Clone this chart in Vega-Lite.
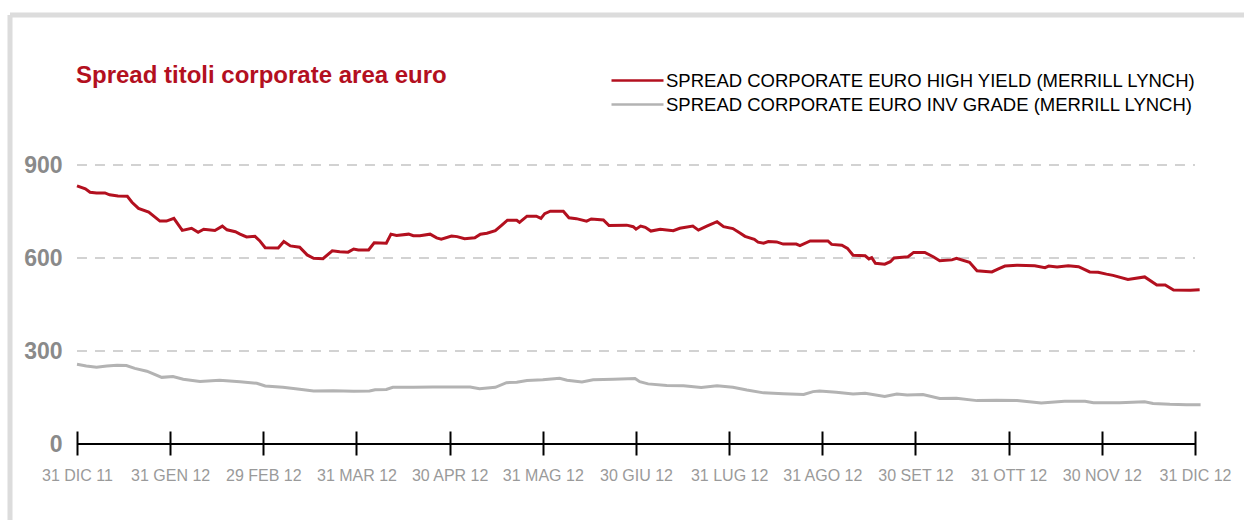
{
  "$schema": "https://vega.github.io/schema/vega-lite/v6.json",
  "width": 1234,
  "height": 505,
  "autosize": {"type": "none"},
  "padding": {"left": 10, "top": 15, "right": 0, "bottom": 0},
  "background": "white",
  "title": {
    "text": "Spread titoli corporate area euro",
    "anchor": "start",
    "frame": "group",
    "orient": "top",
    "offset": -92,
    "dx": 66,
    "baseline": "alphabetic",
    "color": "#b3101f",
    "font": "Liberation Sans",
    "fontSize": 24,
    "fontWeight": "bold"
  },
  "datasets": {
    "grid": [{"g": 300}, {"g": 600}, {"g": 900}],
    "base": [{"g": 0}],
    "series": [
      {"serie": "HY", "t": 0.00, "v": 833},
      {"serie": "HY", "t": 0.09, "v": 823},
      {"serie": "HY", "t": 0.14, "v": 812},
      {"serie": "HY", "t": 0.21, "v": 810},
      {"serie": "HY", "t": 0.30, "v": 810},
      {"serie": "HY", "t": 0.35, "v": 804},
      {"serie": "HY", "t": 0.44, "v": 800},
      {"serie": "HY", "t": 0.54, "v": 799},
      {"serie": "HY", "t": 0.59, "v": 780},
      {"serie": "HY", "t": 0.66, "v": 760},
      {"serie": "HY", "t": 0.77, "v": 748},
      {"serie": "HY", "t": 0.89, "v": 719},
      {"serie": "HY", "t": 0.96, "v": 719},
      {"serie": "HY", "t": 1.04, "v": 728},
      {"serie": "HY", "t": 1.13, "v": 689},
      {"serie": "HY", "t": 1.23, "v": 696},
      {"serie": "HY", "t": 1.30, "v": 683},
      {"serie": "HY", "t": 1.36, "v": 693},
      {"serie": "HY", "t": 1.48, "v": 689},
      {"serie": "HY", "t": 1.56, "v": 703},
      {"serie": "HY", "t": 1.61, "v": 691},
      {"serie": "HY", "t": 1.70, "v": 685},
      {"serie": "HY", "t": 1.75, "v": 677},
      {"serie": "HY", "t": 1.82, "v": 668},
      {"serie": "HY", "t": 1.91, "v": 670},
      {"serie": "HY", "t": 1.96, "v": 656},
      {"serie": "HY", "t": 2.02, "v": 633},
      {"serie": "HY", "t": 2.16, "v": 632},
      {"serie": "HY", "t": 2.22, "v": 653},
      {"serie": "HY", "t": 2.29, "v": 639},
      {"serie": "HY", "t": 2.39, "v": 635},
      {"serie": "HY", "t": 2.47, "v": 610},
      {"serie": "HY", "t": 2.54, "v": 599},
      {"serie": "HY", "t": 2.64, "v": 598},
      {"serie": "HY", "t": 2.74, "v": 623},
      {"serie": "HY", "t": 2.82, "v": 620},
      {"serie": "HY", "t": 2.91, "v": 619},
      {"serie": "HY", "t": 2.97, "v": 629},
      {"serie": "HY", "t": 3.02, "v": 626},
      {"serie": "HY", "t": 3.13, "v": 626},
      {"serie": "HY", "t": 3.19, "v": 649},
      {"serie": "HY", "t": 3.32, "v": 648},
      {"serie": "HY", "t": 3.37, "v": 677},
      {"serie": "HY", "t": 3.43, "v": 673},
      {"serie": "HY", "t": 3.56, "v": 677},
      {"serie": "HY", "t": 3.61, "v": 672},
      {"serie": "HY", "t": 3.68, "v": 672},
      {"serie": "HY", "t": 3.79, "v": 677},
      {"serie": "HY", "t": 3.86, "v": 665},
      {"serie": "HY", "t": 3.91, "v": 661},
      {"serie": "HY", "t": 4.02, "v": 671},
      {"serie": "HY", "t": 4.08, "v": 669},
      {"serie": "HY", "t": 4.16, "v": 662},
      {"serie": "HY", "t": 4.27, "v": 665},
      {"serie": "HY", "t": 4.33, "v": 677},
      {"serie": "HY", "t": 4.40, "v": 680},
      {"serie": "HY", "t": 4.49, "v": 688},
      {"serie": "HY", "t": 4.56, "v": 706},
      {"serie": "HY", "t": 4.62, "v": 722},
      {"serie": "HY", "t": 4.72, "v": 722},
      {"serie": "HY", "t": 4.75, "v": 715},
      {"serie": "HY", "t": 4.83, "v": 735},
      {"serie": "HY", "t": 4.93, "v": 735},
      {"serie": "HY", "t": 4.98, "v": 728},
      {"serie": "HY", "t": 5.02, "v": 743},
      {"serie": "HY", "t": 5.08, "v": 751},
      {"serie": "HY", "t": 5.22, "v": 751},
      {"serie": "HY", "t": 5.28, "v": 730},
      {"serie": "HY", "t": 5.36, "v": 727},
      {"serie": "HY", "t": 5.47, "v": 719},
      {"serie": "HY", "t": 5.52, "v": 726},
      {"serie": "HY", "t": 5.65, "v": 723},
      {"serie": "HY", "t": 5.71, "v": 705},
      {"serie": "HY", "t": 5.90, "v": 706},
      {"serie": "HY", "t": 5.97, "v": 701},
      {"serie": "HY", "t": 6.00, "v": 693},
      {"serie": "HY", "t": 6.05, "v": 703},
      {"serie": "HY", "t": 6.10, "v": 699},
      {"serie": "HY", "t": 6.16, "v": 687},
      {"serie": "HY", "t": 6.26, "v": 693},
      {"serie": "HY", "t": 6.40, "v": 688},
      {"serie": "HY", "t": 6.47, "v": 696},
      {"serie": "HY", "t": 6.61, "v": 703},
      {"serie": "HY", "t": 6.67, "v": 690},
      {"serie": "HY", "t": 6.76, "v": 703},
      {"serie": "HY", "t": 6.87, "v": 717},
      {"serie": "HY", "t": 6.94, "v": 701},
      {"serie": "HY", "t": 7.04, "v": 695},
      {"serie": "HY", "t": 7.12, "v": 680},
      {"serie": "HY", "t": 7.17, "v": 670},
      {"serie": "HY", "t": 7.27, "v": 660},
      {"serie": "HY", "t": 7.31, "v": 651},
      {"serie": "HY", "t": 7.37, "v": 648},
      {"serie": "HY", "t": 7.42, "v": 653},
      {"serie": "HY", "t": 7.51, "v": 652},
      {"serie": "HY", "t": 7.58, "v": 645},
      {"serie": "HY", "t": 7.72, "v": 645},
      {"serie": "HY", "t": 7.76, "v": 640},
      {"serie": "HY", "t": 7.87, "v": 655},
      {"serie": "HY", "t": 7.97, "v": 655},
      {"serie": "HY", "t": 8.06, "v": 655},
      {"serie": "HY", "t": 8.10, "v": 644},
      {"serie": "HY", "t": 8.21, "v": 641},
      {"serie": "HY", "t": 8.27, "v": 631},
      {"serie": "HY", "t": 8.33, "v": 609},
      {"serie": "HY", "t": 8.46, "v": 607},
      {"serie": "HY", "t": 8.50, "v": 597},
      {"serie": "HY", "t": 8.53, "v": 601},
      {"serie": "HY", "t": 8.57, "v": 583},
      {"serie": "HY", "t": 8.67, "v": 580},
      {"serie": "HY", "t": 8.73, "v": 588},
      {"serie": "HY", "t": 8.77, "v": 600},
      {"serie": "HY", "t": 8.92, "v": 604},
      {"serie": "HY", "t": 8.98, "v": 618},
      {"serie": "HY", "t": 9.10, "v": 618},
      {"serie": "HY", "t": 9.19, "v": 604},
      {"serie": "HY", "t": 9.26, "v": 591},
      {"serie": "HY", "t": 9.39, "v": 594},
      {"serie": "HY", "t": 9.44, "v": 599},
      {"serie": "HY", "t": 9.58, "v": 586},
      {"serie": "HY", "t": 9.66, "v": 559},
      {"serie": "HY", "t": 9.82, "v": 555},
      {"serie": "HY", "t": 9.89, "v": 565},
      {"serie": "HY", "t": 9.96, "v": 574},
      {"serie": "HY", "t": 10.09, "v": 577},
      {"serie": "HY", "t": 10.28, "v": 575},
      {"serie": "HY", "t": 10.39, "v": 569},
      {"serie": "HY", "t": 10.43, "v": 574},
      {"serie": "HY", "t": 10.52, "v": 571},
      {"serie": "HY", "t": 10.64, "v": 575},
      {"serie": "HY", "t": 10.75, "v": 572},
      {"serie": "HY", "t": 10.87, "v": 555},
      {"serie": "HY", "t": 10.96, "v": 554},
      {"serie": "HY", "t": 11.05, "v": 548},
      {"serie": "HY", "t": 11.12, "v": 544},
      {"serie": "HY", "t": 11.28, "v": 531},
      {"serie": "HY", "t": 11.46, "v": 539},
      {"serie": "HY", "t": 11.59, "v": 513},
      {"serie": "HY", "t": 11.68, "v": 513},
      {"serie": "HY", "t": 11.77, "v": 497},
      {"serie": "HY", "t": 11.95, "v": 496},
      {"serie": "HY", "t": 12.05, "v": 498},
      {"serie": "IG", "t": 0.00, "v": 257},
      {"serie": "IG", "t": 0.10, "v": 252},
      {"serie": "IG", "t": 0.21, "v": 248},
      {"serie": "IG", "t": 0.32, "v": 252},
      {"serie": "IG", "t": 0.43, "v": 254},
      {"serie": "IG", "t": 0.53, "v": 253},
      {"serie": "IG", "t": 0.62, "v": 244},
      {"serie": "IG", "t": 0.75, "v": 235},
      {"serie": "IG", "t": 0.82, "v": 226},
      {"serie": "IG", "t": 0.91, "v": 215},
      {"serie": "IG", "t": 1.03, "v": 218},
      {"serie": "IG", "t": 1.14, "v": 209},
      {"serie": "IG", "t": 1.32, "v": 202},
      {"serie": "IG", "t": 1.53, "v": 206},
      {"serie": "IG", "t": 1.75, "v": 201},
      {"serie": "IG", "t": 1.93, "v": 196},
      {"serie": "IG", "t": 2.02, "v": 187},
      {"serie": "IG", "t": 2.21, "v": 183},
      {"serie": "IG", "t": 2.39, "v": 177},
      {"serie": "IG", "t": 2.54, "v": 171},
      {"serie": "IG", "t": 2.75, "v": 172},
      {"serie": "IG", "t": 2.97, "v": 170},
      {"serie": "IG", "t": 3.14, "v": 171},
      {"serie": "IG", "t": 3.20, "v": 175},
      {"serie": "IG", "t": 3.32, "v": 176},
      {"serie": "IG", "t": 3.39, "v": 183},
      {"serie": "IG", "t": 3.61, "v": 183},
      {"serie": "IG", "t": 3.82, "v": 184},
      {"serie": "IG", "t": 4.00, "v": 184},
      {"serie": "IG", "t": 4.22, "v": 184},
      {"serie": "IG", "t": 4.32, "v": 178},
      {"serie": "IG", "t": 4.49, "v": 183},
      {"serie": "IG", "t": 4.61, "v": 198},
      {"serie": "IG", "t": 4.72, "v": 199},
      {"serie": "IG", "t": 4.83, "v": 205},
      {"serie": "IG", "t": 5.00, "v": 207},
      {"serie": "IG", "t": 5.18, "v": 212},
      {"serie": "IG", "t": 5.26, "v": 206},
      {"serie": "IG", "t": 5.42, "v": 200},
      {"serie": "IG", "t": 5.54, "v": 207},
      {"serie": "IG", "t": 5.76, "v": 209},
      {"serie": "IG", "t": 5.99, "v": 211},
      {"serie": "IG", "t": 6.04, "v": 201},
      {"serie": "IG", "t": 6.13, "v": 194},
      {"serie": "IG", "t": 6.33, "v": 189},
      {"serie": "IG", "t": 6.51, "v": 188},
      {"serie": "IG", "t": 6.70, "v": 182},
      {"serie": "IG", "t": 6.87, "v": 188},
      {"serie": "IG", "t": 7.04, "v": 183},
      {"serie": "IG", "t": 7.19, "v": 174},
      {"serie": "IG", "t": 7.37, "v": 165},
      {"serie": "IG", "t": 7.58, "v": 162},
      {"serie": "IG", "t": 7.80, "v": 160},
      {"serie": "IG", "t": 7.90, "v": 169},
      {"serie": "IG", "t": 7.97, "v": 171},
      {"serie": "IG", "t": 8.15, "v": 167},
      {"serie": "IG", "t": 8.33, "v": 161},
      {"serie": "IG", "t": 8.46, "v": 164},
      {"serie": "IG", "t": 8.67, "v": 153},
      {"serie": "IG", "t": 8.80, "v": 161},
      {"serie": "IG", "t": 8.91, "v": 158},
      {"serie": "IG", "t": 9.08, "v": 160},
      {"serie": "IG", "t": 9.26, "v": 147},
      {"serie": "IG", "t": 9.44, "v": 148},
      {"serie": "IG", "t": 9.66, "v": 140},
      {"serie": "IG", "t": 9.87, "v": 141},
      {"serie": "IG", "t": 10.09, "v": 140},
      {"serie": "IG", "t": 10.35, "v": 132},
      {"serie": "IG", "t": 10.60, "v": 138},
      {"serie": "IG", "t": 10.82, "v": 138},
      {"serie": "IG", "t": 10.91, "v": 133},
      {"serie": "IG", "t": 11.19, "v": 133},
      {"serie": "IG", "t": 11.46, "v": 136},
      {"serie": "IG", "t": 11.55, "v": 131},
      {"serie": "IG", "t": 11.73, "v": 128},
      {"serie": "IG", "t": 11.91, "v": 127},
      {"serie": "IG", "t": 12.06, "v": 127}
    ]
  },
  "layer": [
    {
      "data": {"name": "grid"},
      "mark": {"type": "rule", "color": "#c4c4c4", "strokeWidth": 1.5, "strokeDash": [10, 8]},
      "encoding": {
        "y": {
          "field": "g", "type": "quantitative",
          "scale": {"domain": [-245.1, 1383.9], "nice": false, "zero": false},
          "axis": {
            "title": null, "values": [0, 300, 600, 900],
            "offset": -67, "domain": false, "grid": false, "ticks": false, "tickSize": 0,
            "labelPadding": 15, "labelAlign": "right", "labelBaseline": "middle",
            "labelColor": "#8a8a8a", "labelFontSize": 23, "labelFontWeight": "bold",
            "labelFont": "Liberation Sans", "labelOverlap": false, "labelFlush": false, "labelBound": false
          }
        },
        "x": {
          "datum": 0, "type": "quantitative",
          "scale": {"domain": [-0.7191, 12.526], "nice": false, "zero": false},
          "axis": {
            "title": null, "values": [0, 1, 2, 3, 4, 5, 6, 7, 8, 9, 10, 11, 12],
            "offset": -89, "domain": false, "grid": false,
            "ticks": true, "tickSize": 24, "tickWidth": 2, "tickColor": "#000000",
            "labelPadding": 12, "labelColor": "#9a9a9a", "labelFontSize": 16, "labelFont": "Liberation Sans",
            "labelOverlap": false, "labelFlush": false, "labelBound": false,
            "labelExpr": "['31 DIC 11','31 GEN 12','29 FEB 12','31 MAR 12','30 APR 12','31 MAG 12','30 GIU 12','31 LUG 12','31 AGO 12','30 SET 12','31 OTT 12','30 NOV 12','31 DIC 12'][datum.value]"
          }
        },
        "x2": {"datum": 12}
      }
    },
    {
      "data": {"name": "base"},
      "mark": {"type": "rule", "color": "#000000", "strokeWidth": 2},
      "encoding": {
        "y": {
          "field": "g", "type": "quantitative",
          "scale": {"domain": [-245.1, 1383.9], "nice": false, "zero": false},
          "axis": {
            "title": null, "values": [0, 300, 600, 900],
            "offset": -67, "domain": false, "grid": false, "ticks": false, "tickSize": 0,
            "labelPadding": 15, "labelAlign": "right", "labelBaseline": "middle",
            "labelColor": "#8a8a8a", "labelFontSize": 23, "labelFontWeight": "bold",
            "labelFont": "Liberation Sans", "labelOverlap": false, "labelFlush": false, "labelBound": false
          }
        },
        "x": {
          "datum": 0, "type": "quantitative",
          "scale": {"domain": [-0.7191, 12.526], "nice": false, "zero": false},
          "axis": {
            "title": null, "values": [0, 1, 2, 3, 4, 5, 6, 7, 8, 9, 10, 11, 12],
            "offset": -89, "domain": false, "grid": false,
            "ticks": true, "tickSize": 24, "tickWidth": 2, "tickColor": "#000000",
            "labelPadding": 12, "labelColor": "#9a9a9a", "labelFontSize": 16, "labelFont": "Liberation Sans",
            "labelOverlap": false, "labelFlush": false, "labelBound": false,
            "labelExpr": "['31 DIC 11','31 GEN 12','29 FEB 12','31 MAR 12','30 APR 12','31 MAG 12','30 GIU 12','31 LUG 12','31 AGO 12','30 SET 12','31 OTT 12','30 NOV 12','31 DIC 12'][datum.value]"
          }
        },
        "x2": {"datum": 12}
      }
    },
    {
      "data": {"name": "series"},
      "mark": {"type": "line", "strokeWidth": 3},
      "encoding": {
        "x": {
          "field": "t", "type": "quantitative",
          "scale": {"domain": [-0.7191, 12.526], "nice": false, "zero": false},
          "axis": {
            "title": null, "values": [0, 1, 2, 3, 4, 5, 6, 7, 8, 9, 10, 11, 12],
            "offset": -89, "domain": false, "grid": false,
            "ticks": true, "tickSize": 24, "tickWidth": 2, "tickColor": "#000000",
            "labelPadding": 12, "labelColor": "#9a9a9a", "labelFontSize": 16, "labelFont": "Liberation Sans",
            "labelOverlap": false, "labelFlush": false, "labelBound": false,
            "labelExpr": "['31 DIC 11','31 GEN 12','29 FEB 12','31 MAR 12','30 APR 12','31 MAG 12','30 GIU 12','31 LUG 12','31 AGO 12','30 SET 12','31 OTT 12','30 NOV 12','31 DIC 12'][datum.value]"
          }
        },
        "y": {
          "field": "v", "type": "quantitative",
          "scale": {"domain": [-245.1, 1383.9], "nice": false, "zero": false},
          "axis": {
            "title": null, "values": [0, 300, 600, 900],
            "offset": -67, "domain": false, "grid": false, "ticks": false, "tickSize": 0,
            "labelPadding": 15, "labelAlign": "right", "labelBaseline": "middle",
            "labelColor": "#8a8a8a", "labelFontSize": 23, "labelFontWeight": "bold",
            "labelFont": "Liberation Sans", "labelOverlap": false, "labelFlush": false, "labelBound": false
          }
        },
        "color": {
          "field": "serie", "type": "nominal",
          "scale": {"domain": ["HY", "IG"], "range": ["#b3101f", "#b3b3b3"]},
          "legend": {
            "title": null, "orient": "none", "legendX": 613, "legendY": 51,
            "symbolType": "M-2,0L2,0", "symbolSize": 676, "symbolStrokeWidth": 2.5,
            "labelFontSize": 18.5, "labelColor": "#000000", "labelFont": "Liberation Sans",
            "labelOffset": 14, "labelLimit": 800, "padding": 0, "rowPadding": 0,
            "labelExpr": "datum.label == 'HY' ? 'SPREAD CORPORATE EURO HIGH YIELD (MERRILL LYNCH)' : 'SPREAD CORPORATE EURO INV GRADE (MERRILL LYNCH)'"
          }
        }
      }
    }
  ],
  "config": {
    "view": {"stroke": "#dcdcdc", "strokeWidth": 5, "fill": "white", "strokeDash": [1234, 1739, 505, 0]},
    "font": "Liberation Sans"
  }
}
